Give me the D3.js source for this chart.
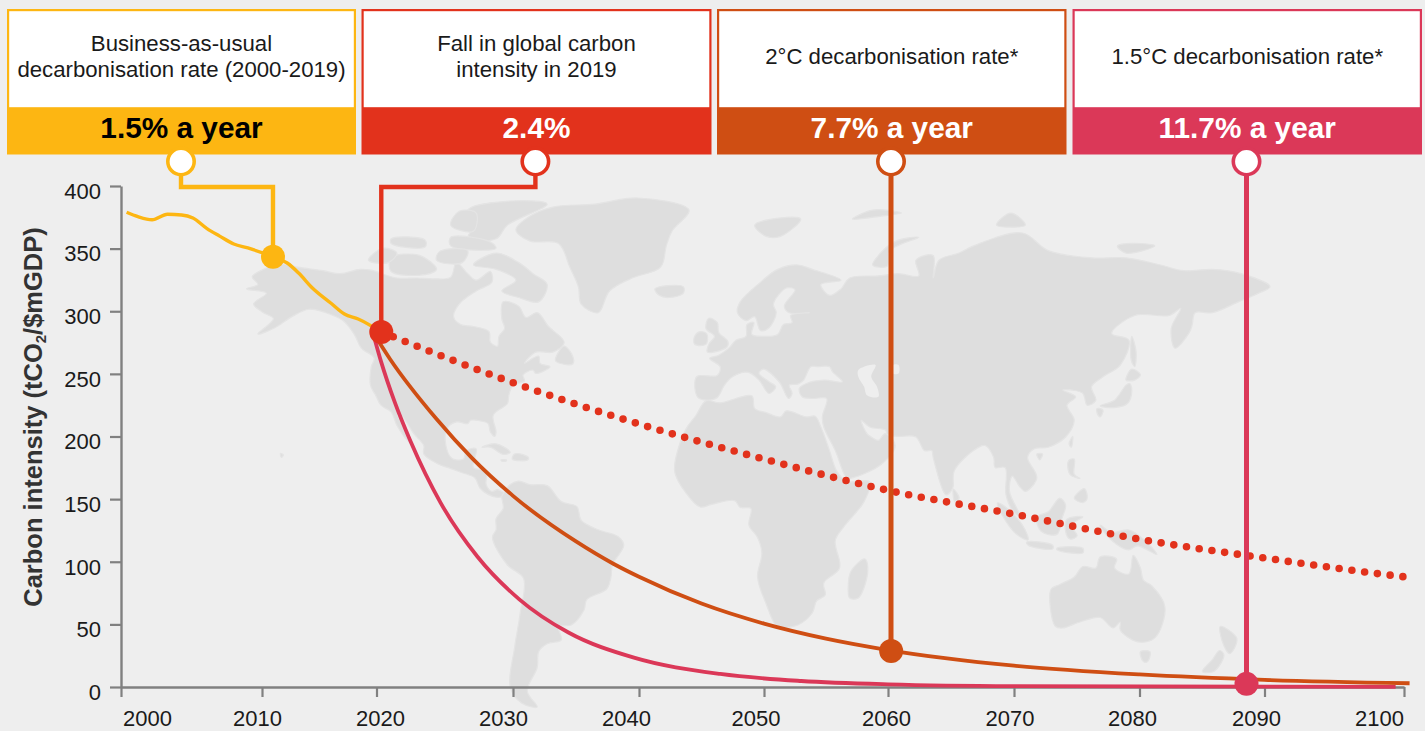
<!DOCTYPE html>
<html>
<head>
<meta charset="utf-8">
<script src="https://cdn.jsdelivr.net/npm/d3@7"></script>
<style>
  body { margin: 0; background: #eeeeee; }
  svg { display: block; font-family: "Liberation Sans", Arial, sans-serif; }
</style>
</head>
<body>
<svg width="1425" height="731"></svg>
<script>
// axis
const yearTicks = [2000, 2010, 2020, 2030, 2040, 2050, 2060, 2070, 2080, 2090, 2100]
const valueTicks = [0, 50, 100, 150, 200, 250, 300, 350, 400]

// series
const bauYears = [2000.4, 2001.2, 2002.2, 2003.3, 2004.3, 2005.1, 2006.1, 2007, 2008, 2009, 2010.96, 2012.2, 2013.2, 2014.4, 2016, 2017.2, 2018.4, 2020.35]
const bauValues = [379, 375.5, 373, 377.4, 376.9, 374.5, 366, 360, 353.7, 350.5, 343.5, 338.5, 330.5, 318.6, 306.6, 297.8, 293.8, 283.4]

const fallYears = [2020.35, 2030, 2040, 2050, 2060, 2070, 2080, 2090, 2100, 2100.8]
const fallValues = [283.4, 243, 210, 182, 157, 138, 118, 103, 88, 87]

const twoDegYears = [2019.67, 2021, 2024.4, 2027, 2030, 2035, 2038, 2040, 2045, 2050, 2055, 2060, 2070, 2080, 2090, 2100.4]
const twoDegValues = [283.4, 261.7, 213.9, 182.7, 152.6, 116.2, 98.2, 88, 66.6, 50.6, 38.6, 29.5, 17, 10, 5.7, 3]

const oneFiveYears = [2019.67, 2020.33, 2021.35, 2022.5, 2024.7, 2027.4, 2030.5, 2034.4, 2039.6, 2046.5, 2053, 2060, 2070, 2099.4]
const oneFiveValues = [283.4, 260, 227, 196, 147, 104, 70, 43.5, 23.4, 10.4, 4.8, 2.1, 0.7, 0.1]

// callout boxes
const boxTitles = [
  ['Business-as-usual', 'decarbonisation rate (2000-2019)'],
  ['Fall in global carbon', 'intensity in 2019'],
  ['2°C decarbonisation rate*'],
  ['1.5°C decarbonisation rate*'],
]
const boxRates = ['1.5% a year', '2.4%', '7.7% a year', '11.7% a year']
const boxColors = ['#fdb612', '#e2321c', '#cf4e13', '#db3858']
const rateColors = ['#000000', '#ffffff', '#ffffff', '#ffffff']
const markerYears = [2010.96, 2020.35, 2060.25, 2088.56]
const markerValues = [343.5, 283.4, 28.7, 2.5]

// rough coastlines as [lon, lat]
const landOutlines = [
  // north america
  [[-168,65.5],[-164,66.5],[-166,68.3],[-161,70.3],[-156.5,71.3],[-150,70.5],[-141,69.7],[-135,69],[-128,70],[-124,69.8],[-115,68],[-108,68],[-102,67.8],[-96,68.2],[-94,71.5],[-90,69],[-87,67.5],[-82,69.5],[-81.5,67],[-87,65],[-93,62],[-95,59],[-92.5,57],[-88,56.5],[-82.5,55.2],[-82,52.5],[-79.5,51.5],[-79,54],[-77,56],[-78,58.5],[-77.5,62.5],[-72,61.5],[-69.5,58.8],[-65.5,60],[-61.5,56.5],[-56,52.5],[-60,50],[-66,50],[-70,47],[-65,49],[-64.5,47],[-61,46],[-66,44],[-67,45],[-70.5,43.5],[-70,41.7],[-74,40.5],[-75.5,37.5],[-76,35],[-81,31.5],[-80,26.5],[-80.5,25.2],[-82,26.5],[-82.8,29],[-85,29.7],[-89,30],[-90,29],[-94,29.5],[-97.3,27.5],[-97.7,22.5],[-95.5,18.7],[-91.5,18.5],[-90.5,21],[-87,21.5],[-88,16],[-83.5,15],[-83.5,11],[-81.5,9],[-79.5,9.5],[-77.3,8.5],[-78,7.5],[-80,7.3],[-83,8.2],[-85.7,10],[-87.5,13],[-92,14.5],[-96,15.7],[-101,17.3],[-105.5,20],[-105.5,22.5],[-109,26],[-113,31],[-114.7,31.7],[-112,27],[-109.8,23],[-112,24.7],[-115,28.5],[-117,32.5],[-120.6,34.5],[-122.5,37.5],[-124.3,40.5],[-124,46],[-123,48.5],[-127.5,51],[-130,54.5],[-134,58],[-140,60],[-146,60.8],[-152,59],[-158,56.2],[-164,54.6],[-158.5,58.5],[-162,60],[-165.5,62],[-161,64.5]],
  // greenland
  [[-73,78.2],[-68,76],[-58,75.5],[-54,70.5],[-51,66],[-50,62],[-44,60],[-40,65],[-32,68],[-22,70.5],[-20,75],[-18,78],[-12,81.5],[-30,83.5],[-45,82.5],[-60,82],[-68,80.5]],
  // arctic canada
  [[-80,73.5],[-72,71.5],[-67,69],[-62,66.5],[-65,62.5],[-72,63.5],[-78,65],[-73,67.5],[-80,70],[-88,71]],
  [[-90,76.5],[-80,76.5],[-76,79],[-62,82.5],[-75,83],[-90,81.5],[-88,79]],
  [[-96,79],[-88,78],[-87,81],[-93,81.3]],
  [[-117,69.5],[-105,68.8],[-101,70],[-107,73],[-117,72.5]],
  [[-125,72],[-118,71.5],[-115,73.5],[-120,74.5]],
  [[-96,75],[-80,74.5],[-82,75.8],[-96,76.8]],
  [[-117,75.5],[-105,74.8],[-105,76.2],[-117,76.5]],
  [[-101,72],[-92,71.5],[-90,74],[-100,73.8]],
  // atlantic side and caribbean
  [[-59,47.7],[-53,46.8],[-53,49],[-56,51.5],[-58,50]],
  [[-85,22],[-80,23],[-75,20.5],[-77.5,19.9],[-82,22]],
  [[-74.3,18.5],[-69,18.2],[-68.5,18.8],[-70.5,19.8],[-73.5,20]],
  [[-78.3,18.3],[-76.3,18.2],[-76.5,17.9],[-78,17.9]],
  [[-156,20.2],[-155,19.7],[-155.7,19],[-156,19.5]],
  // south america
  [[-77.3,8.5],[-75,11],[-72,12],[-68,11],[-62,10.7],[-57,6],[-51.5,4.5],[-50,0.5],[-44,-2.5],[-37,-4.7],[-35,-7.5],[-39,-14],[-39.5,-18],[-41,-22],[-48,-25.5],[-49,-29],[-53.5,-34],[-58,-34.5],[-57,-38],[-62,-39],[-65,-41],[-65.5,-45],[-69,-51],[-65.5,-55],[-71,-54],[-75,-50],[-73.5,-40],[-71.5,-30],[-70.3,-18.5],[-76,-14],[-81.3,-5],[-80,-2.5],[-80,1],[-77.5,4],[-78,7.5]],
  // africa
  [[-6,35.8],[-1,35.2],[10,37.3],[11,33.5],[15,32.3],[20,31],[22,32.8],[29,31],[32,31.2],[34,28],[37,21],[39.5,15],[43,12],[51,11.8],[49,6],[42,-1.5],[39,-6],[40.5,-15],[35,-20],[35.5,-24],[32.5,-26],[31,-30],[26,-34],[20,-34.8],[18.3,-34],[15,-27],[12,-18],[13.5,-10],[12,-5],[9,-1],[9.7,4],[6,4.3],[4,6.3],[-4,5.2],[-8,4.4],[-13,8.5],[-17,14.7],[-16,21],[-13,27.5],[-9.5,31.5]],
  [[49.3,-12],[50.3,-16],[47,-25],[44,-25],[43.5,-21],[44.5,-16]],
  // eurasia
  [[-9,37],[-9.3,43],[-2,43.4],[-1,46],[-4.7,48.4],[-1.5,49.2],[2,51],[4.5,53],[8,54],[8.3,57],[10.7,57.5],[10,54.5],[14,54],[19,54.5],[21,57],[24,57.5],[23.5,59.3],[30,60],[23,60],[21.3,61.5],[25,65.3],[22,65.7],[17.5,62],[18.5,60],[16,56.2],[13,55.5],[11,59],[8,58],[5,60],[6,62.5],[13,67],[19,70],[26,71],[31,70],[41,67.5],[34,66.5],[37,64],[41,65.5],[44,68],[54,68.5],[61,69],[68,68.5],[67,72],[73,73],[73,68],[75,72],[82,73.5],[87,75],[104,77.7],[113,74],[128,72.5],[140,72.5],[152,71],[160,69.7],[170,70],[180,69],[190,66],[186,64.5],[179,62.5],[170,60],[164,60],[163,57],[162,55],[157,51],[155.7,56],[159,61],[155,59.3],[143,59.3],[135,54.7],[141,53],[138,46.5],[132,43],[128,40],[129.5,36],[126.5,34.5],[125,38],[121.5,39],[118,39],[122.5,37],[119.5,34.5],[122,30],[119,25],[113,22],[108,21.5],[105.8,19],[109,13],[105,9],[103,10.5],[100.5,13.5],[99.5,9],[103.5,1.4],[100.5,3.5],[98.3,8],[98,16],[94.5,16],[94,19],[91,22.5],[87,21],[80.3,15],[79.8,10],[77.5,8],[73,19],[72.5,21],[70,21],[67,25],[61,25.2],[57,25.7],[56.5,27],[51,28],[48,30],[50,26],[51.5,25],[54,24],[56.3,26],[59.8,22.5],[55,17],[45,13],[43,13],[39,21],[35,28],[34.5,31],[36,36.5],[31,36.5],[27.5,37],[26.5,39.5],[29,41],[35,42],[41.5,41.5],[38,44.5],[37,46],[33,46],[30.5,46],[28,42],[26,40.8],[23,40.5],[24,38],[22.8,36.5],[19.5,41.5],[14,45.3],[12.5,44],[16,41.5],[18.3,40],[16,38],[12.5,42],[8.8,44.3],[3.3,43],[0.5,40.5],[-2,36.8],[-5.5,36]],
  // europe and arctic islands
  [[-5.5,50],[1.4,51.3],[1.7,52.7],[-1.5,55],[-2,57.5],[-5,58.6],[-6,56],[-3,54],[-5,52]],
  [[-10,52],[-6,52],[-5.7,54.6],[-8,55.2],[-10,54]],
  [[-24,65.5],[-14,66],[-14,64.5],[-19,63.5],[-22.5,64]],
  [[11,79],[20,80.2],[27,80],[20,77],[15,77]],
  [[52,71],[57,70.7],[58,74],[68,76.8],[60,76],[54,73]],
  [[95,79],[105,79],[100,81]],
  [[137,75],[145,75.5],[150,75],[140,73.5]],
  [[45,80],[55,80.5],[62,81],[52,81.5]],
  // east asia
  [[142,54],[143.5,50],[143,46],[141.8,48]],
  [[140,42],[142,45.3],[145,43.5],[143,42]],
  [[131,34.3],[136,36],[140,40.5],[141.3,41],[142,38.5],[140.5,35],[136,33.8]],
  [[130,33.5],[132,33],[131,31],[130,32]],
  [[120.2,23],[121.5,25.2],[121,22]],
  [[109,20],[111,20],[110,18.3]],
  [[120,18],[122,18.5],[122,14],[124,12.8],[120.5,14]],
  [[122,7],[125.5,9.8],[126.5,7],[125,5.7]],
  [[80,9.7],[82,7],[80.5,6]],
  // indonesia and oceania
  [[109,1.5],[113,3],[117,7],[119,5],[117.7,1],[116,-4],[110.5,-3]],
  [[95.3,5.6],[98,4.5],[104,-1],[106,-5.8],[102,-4],[97,2]],
  [[105.5,-6.5],[114.5,-7.5],[114.5,-8.7],[106,-7.5]],
  [[119.5,0.8],[125,1.5],[121,-1],[123,-4.5],[120.5,-5.5],[119,-3]],
  [[131,-1],[135,-3.3],[141,-2.6],[146,-5.5],[150.7,-10.5],[144,-7.7],[141,-9],[138,-8],[133,-4]],
  [[116,-8.5],[125,-8.5],[125,-10],[116,-9]],
  [[114,-22],[113.5,-26],[115.5,-34.5],[118,-35],[124,-33],[131,-31.5],[135.5,-35],[138,-33],[138,-35.5],[144,-38.5],[150,-37.5],[153.5,-28],[149,-21],[146,-19],[145,-15],[142.5,-10.8],[141,-17],[136,-15],[136.7,-12],[131,-11.3],[129.5,-15],[125,-14.5],[122,-18],[117,-20.5]],
  [[145,-41],[148.3,-41],[147.5,-43.5],[146,-43.5]],
  [[172.7,-34.5],[178.5,-37.7],[176,-41.5],[174,-39.5]],
  [[172.5,-40.7],[174,-41.8],[170.5,-46],[166.5,-46],[170,-43]],
]
const lakeOutlines = [
  [[47,45],[53,46.5],[51.5,43],[53.5,40],[54,37],[50,37.5],[49,40],[47,43]],
  [[59,46.5],[61,46.5],[61,44],[59,44]],
]

const svg = d3.select('svg')
const bg = '#eeeeee'
const axisGrey = '#808080'

// the ticks and labels of the source are not evenly spaced
const x = d3.scaleLinear().domain(yearTicks).range([121, 262, 376.5, 513, 639, 764, 888, 1014, 1139.5, 1264.5, 1404])
const labelX = d3.scaleLinear().domain(yearTicks).range([147, 257, 380, 503, 626, 755.5, 886, 1009.5, 1132, 1256, 1379])
const y = d3.scaleLinear().domain([0, 400]).range([687, 186])

const mapX = d3.scaleLinear().domain([-168, 0, 190]).range([246.5, 723, 1270])
const mapY = d3.scaleLinear()
  .domain([-55, -35, -11, 0, 25, 48, 60, 71, 77.7, 83.5])
  .range([707, 628, 556, 522, 437, 360, 312.7, 265, 233, 198])

const mapLine = d3.line()
  .x(d => mapX(d[0]))
  .y(d => mapY(d[1]))
  .curve(d3.curveCatmullRomClosed.alpha(0.5))

const map = svg.append('g')
map.selectAll('path.land')
  .data(landOutlines)
  .join('path')
  .attr('class', 'land')
  .attr('fill', '#dedede')
  .attr('stroke', '#e4e4e4')
  .attr('stroke-width', 1.2)
  .attr('d', mapLine)
map.selectAll('path.lake')
  .data(lakeOutlines)
  .join('path')
  .attr('class', 'lake')
  .attr('fill', bg)
  .attr('d', mapLine)

// axes
const yAxis = svg.append('g')
  .attr('transform', 'translate(121,0)')
  .call(d3.axisLeft(y).tickValues(valueTicks).tickSize(11).tickSizeOuter(0).tickPadding(9))
const xAxis = svg.append('g')
  .attr('transform', 'translate(0,687)')
  .call(d3.axisBottom(x).tickValues(yearTicks).tickFormat(d3.format('d')).tickSize(10).tickSizeOuter(0))

;[yAxis, xAxis].forEach(axis => {
  axis.select('.domain').attr('stroke', axisGrey).attr('stroke-width', 2.4)
  axis.selectAll('.tick line').attr('stroke', axisGrey).attr('stroke-width', 2.2)
  axis.selectAll('text')
    .attr('fill', '#1a1a1a')
    .style('font-family', '"Liberation Sans", Arial, sans-serif')
    .style('font-size', '22px')
})
yAxis.selectAll('text').attr('dy', '0.56em')
xAxis.selectAll('text')
  .attr('x', d => labelX(d) - x(d))
  .attr('y', 17)
  .attr('dy', '0.98em')

const yTitle = svg.append('text')
  .attr('transform', 'translate(42,417) rotate(-90)')
  .attr('text-anchor', 'middle')
  .attr('font-size', 25.5)
  .attr('font-weight', 'bold')
  .attr('fill', '#333333')
yTitle.append('tspan').text('Carbon intensity (tCO')
yTitle.append('tspan').attr('font-size', 15).attr('dy', 4).text('2')
yTitle.append('tspan').attr('dy', -4).text('/$mGDP)')

// series
const seriesLine = d3.line().x(d => x(d[0])).y(d => y(d[1])).curve(d3.curveMonotoneX)
const pairs = (years, values) => years.map((year, i) => [year, values[i]])

function drawSeries(years, values, color, width, dash) {
  svg.append('path')
    .datum(pairs(years, values))
    .attr('fill', 'none')
    .attr('stroke', color)
    .attr('stroke-width', width)
    .attr('stroke-linecap', dash ? 'round' : 'butt')
    .attr('stroke-linejoin', 'round')
    .attr('stroke-dasharray', dash)
    .attr('d', seriesLine)
}

drawSeries(bauYears, bauValues, boxColors[0], 3.4)
drawSeries(fallYears, fallValues, boxColors[1], 7.6, '0 12.85')
drawSeries(twoDegYears, twoDegValues, boxColors[2], 3.8)
drawSeries(oneFiveYears, oneFiveValues, boxColors[3], 3.8)

// callout boxes
const boxLeft = [7, 361.5, 717, 1072.5]
const boxRight = [356, 711.5, 1066.5, 1422]
const circleX = [181, 535.4, 891, 1246.5]
const circleY = 161.5
const connectorY = 187

// connectors from the box circles down to the marker dots
const connector = (i) => {
  const mx = x(markerYears[i])
  const my = y(markerValues[i])
  if (Math.abs(mx - circleX[i]) < 1) return `M${circleX[i]},${circleY}V${my}`
  return `M${circleX[i]},${circleY}V${connectorY}H${mx}V${my}`
}
boxColors.forEach((color, i) => {
  svg.append('path')
    .attr('d', connector(i))
    .attr('fill', 'none')
    .attr('stroke', color)
    .attr('stroke-width', i > 1 ? 5 : 4.4)
    .attr('stroke-linejoin', 'miter')
  svg.append('circle')
    .attr('cx', x(markerYears[i]))
    .attr('cy', y(markerValues[i]))
    .attr('r', 12)
    .attr('fill', color)
})

boxColors.forEach((color, i) => {
  const g = svg.append('g')
  const w = boxRight[i] - boxLeft[i]
  const cx = boxLeft[i] + w / 2
  g.append('rect').attr('x', boxLeft[i]).attr('y', 9).attr('width', w).attr('height', 145.5).attr('fill', color)
  g.append('rect').attr('x', boxLeft[i] + 2.2).attr('y', 11.2).attr('width', w - 4.4).attr('height', 96).attr('fill', '#ffffff')

  const lines = boxTitles[i]
  const firstBaseline = lines.length === 2 ? 50.5 : 63.5
  lines.forEach((line, j) => {
    g.append('text')
      .attr('x', cx)
      .attr('y', firstBaseline + j * 26.5)
      .attr('text-anchor', 'middle')
      .attr('font-size', 22.2)
      .attr('fill', '#1a1a1a')
      .text(line)
  })
  g.append('text')
    .attr('x', cx)
    .attr('y', 138)
    .attr('text-anchor', 'middle')
    .attr('font-size', 29.8)
    .attr('font-weight', 'bold')
    .attr('fill', rateColors[i])
    .text(boxRates[i])

  svg.append('circle')
    .attr('cx', circleX[i])
    .attr('cy', circleY)
    .attr('r', 13.2)
    .attr('fill', '#ffffff')
    .attr('stroke', color)
    .attr('stroke-width', 3.6)
})
</script>
</body>
</html>
